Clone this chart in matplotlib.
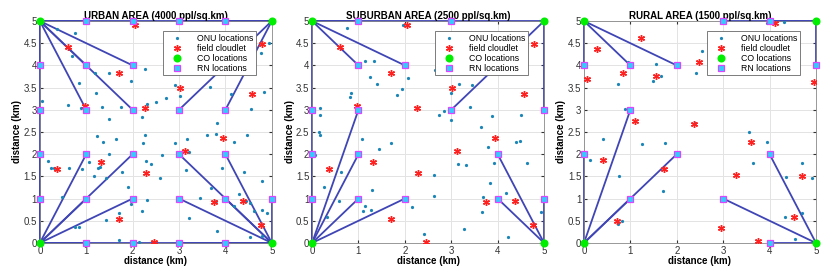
import matplotlib
matplotlib.use("Agg")
import matplotlib.pyplot as plt

plt.rcParams['font.family'] = ['Liberation Sans', 'DejaVu Sans']

titles = ["URBAN AREA (4000 ppl/sq.km)",
          "SUBURBAN AREA (2500 ppl/sq.km)",
          "RURAL AREA (1500 ppl/sq.km)"]

# central offices, shared by all three areas
co_x = [0, 0, 5, 5]
co_y = [0, 5, 0, 5]

# field cloudlets (urban and suburban use the same sites)
cloud_x = [2.05, 0.61, 1.70, 3.02, 0.97, 2.27, 4.57, 4.79, 3.95, 3.13, 0.36, 1.31,
           2.29, 1.70, 3.75, 4.37, 4.76, 2.46]
cloud_y = [4.92, 4.41, 3.83, 3.49, 3.08, 3.03, 3.36, 4.49, 2.37, 2.07, 1.67, 1.82,
           1.58, 0.53, 0.93, 0.95, 0.41, 0.02]

rural_cloud_x = [1.22, 0.27, 0.06, 0.85, 1.55, 2.48, 4.12, 4.96, 1.10, 2.38, 3.61, 0.40,
                 1.73, 3.28, 4.69, 0.71, 4.53, 2.95, 3.74]
rural_cloud_y = [4.62, 4.38, 3.70, 3.82, 3.76, 4.07, 4.96, 3.62, 2.74, 2.68, 2.27, 1.87,
                 1.66, 1.54, 1.50, 0.50, 0.58, 0.34, 0.04]

# ONU locations
urban_onu_x = [0.38, 0.76, 0.69, 1.19, 1.48, 1.96, 2.27, 0.85, 1.21, 0.04, 0.60, 0.88,
               1.33, 1.76, 1.48, 2.21, 2.30, 2.50, 2.71, 4.94, 4.76, 2.92, 3.02, 2.71,
               3.66, 4.11, 4.55, 4.83, 3.82, 1.23, 1.37, 1.64, 2.27, 2.23, 1.49, 0.17,
               0.24, 0.30, 0.62, 1.06, 0.91, 1.26, 1.30, 1.78, 1.17, 1.42, 1.89, 1.96,
               2.28, 2.39, 2.30, 2.20, 0.47, 1.42, 1.70, 0.85, 0.76, 1.71, 2.14, 3.61,
               3.79, 4.18, 4.47, 2.92, 3.17, 2.64, 3.21, 2.59, 3.14, 3.93, 3.68, 4.29,
               4.79, 4.40, 3.46, 3.79, 4.45, 4.18, 4.54, 4.61, 4.79, 3.21, 3.82, 4.54,
               4.79, 4.89]
urban_onu_y = [4.81, 4.74, 4.22, 3.82, 3.84, 3.66, 3.91, 3.60, 3.37, 3.20, 3.11, 3.05,
               3.07, 3.06, 2.79, 2.84, 3.13, 3.17, 4.65, 4.50, 4.27, 3.56, 3.30, 3.27,
               3.52, 3.35, 3.02, 3.39, 2.70, 2.42, 2.28, 2.34, 2.44, 2.25, 2.00, 1.85,
               1.69, 1.69, 1.69, 1.82, 1.67, 1.69, 1.72, 1.59, 1.50, 1.46, 1.27, 0.88,
               1.84, 1.79, 0.97, 0.71, 1.04, 0.52, 0.67, 0.37, 0.35, 0.07, 0.03, 2.43,
               2.45, 2.28, 2.43, 2.25, 2.34, 1.99, 2.06, 1.46, 1.65, 1.70, 1.23, 1.10,
               1.40, 1.61, 1.01, 0.95, 0.94, 0.83, 0.90, 0.73, 0.74, 0.56, 0.26, 0.13,
               0.15, 0.68]

suburban_onu_x = [0.76, 1.95, 1.15, 1.34, 1.25, 1.39, 1.93, 1.84, 2.06, 0.84, 0.82, 0.18,
                  0.18, 0.14, 0.18, 1.08, 1.44, 1.70, 0.06, 0.63, 0.25, 0.58, 0.32, 1.10,
                  1.28, 1.14, 1.30, 2.16, 2.42, 2.65, 2.85, 2.74, 2.99, 2.99, 3.17, 3.44,
                  3.41, 3.63, 3.88, 3.80, 3.14, 3.32, 3.93, 3.84, 4.49, 4.40, 4.51, 4.49,
                  4.63, 4.17, 3.68, 3.66, 3.28, 4.22, 4.94, 2.62, 2.63]
suburban_onu_y = [4.85, 4.91, 4.11, 4.11, 3.74, 3.58, 3.46, 3.33, 3.72, 3.38, 3.29, 3.03,
                  2.88, 2.50, 2.43, 2.35, 2.11, 2.26, 1.99, 1.59, 1.27, 0.95, 0.59, 0.73,
                  0.75, 0.84, 1.20, 0.80, 0.20, 3.90, 2.98, 2.88, 2.77, 3.37, 3.57, 3.55,
                  3.07, 2.62, 2.86, 2.17, 1.77, 1.75, 1.81, 1.34, 2.29, 2.28, 2.88, 3.86,
                  1.81, 1.13, 1.03, 0.69, 0.31, 0.14, 0.70, 1.06, 1.54]

rural_onu_x = [2.54, 0.94, 1.55, 1.65, 1.49, 2.41, 0.73, 0.88, 3.94, 4.32, 0.40, 1.24,
               1.75, 0.14, 0.75, 1.70, 0.83, 0.73, 3.56, 3.95, 3.64, 4.69, 4.35, 4.92,
               4.70, 4.33, 4.55, 2.39]
rural_onu_y = [4.33, 4.07, 4.04, 3.76, 3.64, 3.82, 3.57, 3.01, 4.96, 4.97, 2.35, 2.24,
               2.26, 1.87, 1.51, 1.18, 0.50, 0.43, 2.50, 2.28, 1.81, 1.81, 1.49, 1.47,
               0.68, 0.58, 0.08, 2.71]

# remote nodes and their (CO index, RN index) fibre links
urban_rn_x = [0, 0, 0, 0, 1, 2, 3, 4, 1, 2, 3, 4, 5, 1, 1, 1, 1, 2, 2, 2, 2, 3, 3, 3, 4, 4, 4]
urban_rn_y = [1, 2, 3, 4, 0, 0, 0, 0, 5, 5, 5, 5, 1, 1, 2, 3, 4, 1, 2, 3, 4, 1, 2, 3, 1, 2, 3]
urban_links = [(0, 0), (0, 1), (0, 2), (0, 4), (0, 5), (0, 13), (0, 14), (0, 17), (0, 18),
               (1, 2), (1, 3), (1, 8), (1, 9), (1, 15), (1, 16), (1, 19), (1, 20),
               (2, 5), (2, 6), (2, 7), (2, 12), (2, 21), (2, 22), (2, 24), (2, 25),
               (3, 9), (3, 10), (3, 11), (3, 23), (3, 26)]

suburban_rn_x = [0, 0, 0, 1, 3, 5, 5, 1, 1, 1, 1, 2, 2, 3, 4, 4]
suburban_rn_y = [1, 2, 3, 5, 5, 1, 3, 1, 2, 3, 4, 1, 4, 3, 1, 2]
suburban_links = [(0, 0), (0, 1), (0, 2), (0, 7), (0, 8), (0, 9), (0, 11),
                  (1, 2), (1, 3), (1, 4), (1, 10), (1, 12),
                  (2, 5), (2, 14), (2, 15),
                  (3, 4), (3, 6), (3, 13)]

rural_rn_x = [0, 0, 1, 1, 1, 2, 2, 3, 3, 4, 4, 4, 5]
rural_rn_y = [2, 4, 1, 3, 4, 2, 4, 1, 5, 0, 2, 5, 4]
rural_links = [(0, 0), (0, 2), (0, 3), (0, 5),
               (1, 1), (1, 4), (1, 6),
               (2, 7), (2, 9), (2, 10),
               (3, 8), (3, 11), (3, 12)]

areas = [
    (urban_onu_x, urban_onu_y, cloud_x, cloud_y, urban_rn_x, urban_rn_y, urban_links),
    (suburban_onu_x, suburban_onu_y, cloud_x, cloud_y, suburban_rn_x, suburban_rn_y, suburban_links),
    (rural_onu_x, rural_onu_y, rural_cloud_x, rural_cloud_y, rural_rn_x, rural_rn_y, rural_links),
]

fig = plt.figure(figsize=(8.3, 2.73), dpi=100)
lefts = [0.048, 0.376, 0.7036]

for i, (ox, oy, cx, cy, rx, ry, links) in enumerate(areas):
    ax = fig.add_axes([lefts[i], 0.11, 0.2795, 0.813])

    for c, r in links:
        ax.plot([co_x[c], rx[r]], [co_y[c], ry[r]], color='#3f45b5', lw=1.3,
                zorder=2, clip_on=False)

    ax.plot(ox, oy, '.', color='#1a86b8', ms=2.6, zorder=3, label='ONU locations')
    ax.plot(cx, cy, marker=(6, 2, 0), color='#ff2020', ms=5, mew=1.0, zorder=4,
            label='field cloudlet', linestyle='none')
    ax.plot(co_x, co_y, 'o', color='#00ee00', ms=4.8, zorder=6, clip_on=False,
            label='CO locations', linestyle='none')
    ax.plot(rx, ry, 's', mfc='#33ccff', mec='#dd44ff', mew=0.9, ms=4, zorder=5,
            clip_on=False, label='RN locations', linestyle='none')

    ax.set_xlim(0, 5)
    ax.set_ylim(0, 5)
    ax.set_xticks(range(6))
    ax.set_yticks([0, 0.5, 1, 1.5, 2, 2.5, 3, 3.5, 4, 4.5, 5])
    ax.set_yticklabels(['0', '0.5', '1', '1.5', '2', '2.5', '3', '3.5', '4', '4.5', '5'])
    ax.grid(True, color='#e3e3e3', lw=0.7)
    ax.set_axisbelow(True)
    ax.tick_params(direction='in', length=2.5, labelsize=7, colors='#333333', pad=2,
                   top=True, right=True)
    for s in ax.spines.values():
        s.set_color('#888888')
        s.set_linewidth(0.6)

    ax.set_title(titles[i], fontsize=7, fontweight='bold', pad=1.5)
    ax.set_xlabel('distance (km)', fontsize=7, fontweight='bold', labelpad=0.5)
    ax.set_ylabel('distance (km)', fontsize=7, fontweight='bold', labelpad=1)

    leg = ax.legend(loc='upper right', bbox_to_anchor=(0.95, 0.975), fontsize=6.3,
                    fancybox=False, framealpha=1, edgecolor='#666666',
                    borderpad=0.3, labelspacing=0.12, handletextpad=1.0, handlelength=2.6)
    leg.get_frame().set_linewidth(0.6)
    leg.set_zorder(10)

fig.savefig('out.png', dpi=100)
